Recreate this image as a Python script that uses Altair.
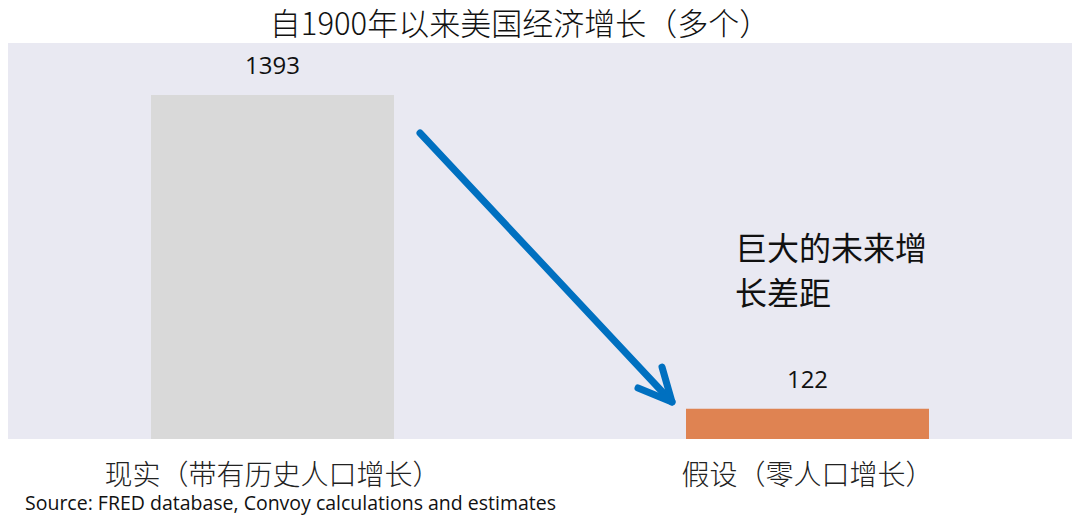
import altair as alt
import pandas as pd

# ---- data ----
categories = ["现实（带有历史人口增长）", "假设（零人口增长）"]
values = [1393, 122]
bar_colors = ["#D9D9D9", "#DF8352"]

title_text = "自1900年以来美国经济增长（多个）"
note_lines = ["巨大的未来增", "长差距"]
source_text = "Source: FRED database, Convoy calculations and estimates"

# arrow annotation (pixel positions inside the plot area)
arrow_shaft = [412, 90, 661, 356]          # x, y, x2, y2
arrow_tip = [664, 359]
arrow_arms = [[654, 324], [630, 345]]

CJK = "Noto Sans CJK SC"
LAT = "Open Sans"

df = pd.DataFrame({"cat": categories, "val": values, "color": bar_colors})

W, H = 1064, 396
x_enc = alt.X("cat:N", sort=categories,
              scale=alt.Scale(paddingInner=0.5458, paddingOuter=0.2673),
              axis=alt.Axis(title=None, domain=False, ticks=False, tickSize=0,
                            labelAngle=0, labelFont=CJK, labelFontSize=28,
                            labelFontWeight=300, labelLimit=0,
                            labelColor="#222222", labelPadding=37,
                            labelBaseline="middle"))
y_enc = alt.Y("val:Q", scale=alt.Scale(domain=[0, 1603], nice=False), axis=None)

bars = alt.Chart(df).mark_bar().encode(
    x=x_enc, y=y_enc, color=alt.Color("color:N", scale=None)
)
labels = alt.Chart(df).mark_text(
    font=LAT, fontSize=24, baseline="middle", dy=-28, color="#111111"
).encode(x=alt.X("cat:N", sort=categories), y=y_enc, text=alt.Text("val:Q"))

def rule(x, y, x2, y2):
    return alt.Chart(df.head(1)).mark_rule(
        color="#0070C0", strokeWidth=7, strokeCap="round"
    ).encode(x=alt.value(x), y=alt.value(y), x2=alt.value(x2), y2=alt.value(y2))

shaft = rule(*arrow_shaft)
arm1 = rule(arrow_arms[0][0], arrow_arms[0][1], arrow_tip[0], arrow_tip[1])
arm2 = rule(arrow_arms[1][0], arrow_arms[1][1], arrow_tip[0], arrow_tip[1])

def text(t, x, y, size, font, align="left", color="#111111", weight="normal"):
    return alt.Chart(df.head(1)).mark_text(
        text=t, font=font, fontSize=size, align=align, baseline="middle",
        color=color, fontWeight=weight
    ).encode(x=alt.value(x), y=alt.value(y))

title = text(title_text, 512, -17, 31, CJK, align="center", weight=300)
note1 = text(note_lines[0], 727, 207, 32, CJK)
note2 = text(note_lines[1], 727, 252, 32, CJK)
source = text(source_text, 17, 461, 19.5, LAT)

chart = alt.layer(bars, labels, shaft, arm1, arm2, title, note1, note2, source).properties(
    width=W, height=H,
    autosize=alt.AutoSizeParams(type="none"),
    padding={"left": 0, "top": 35, "right": 0, "bottom": 78},
    background="white",
).configure_view(fill="#E9E9F2", stroke=None)

chart.save("out.html", embed_options={"renderer": "svg", "actions": False})
